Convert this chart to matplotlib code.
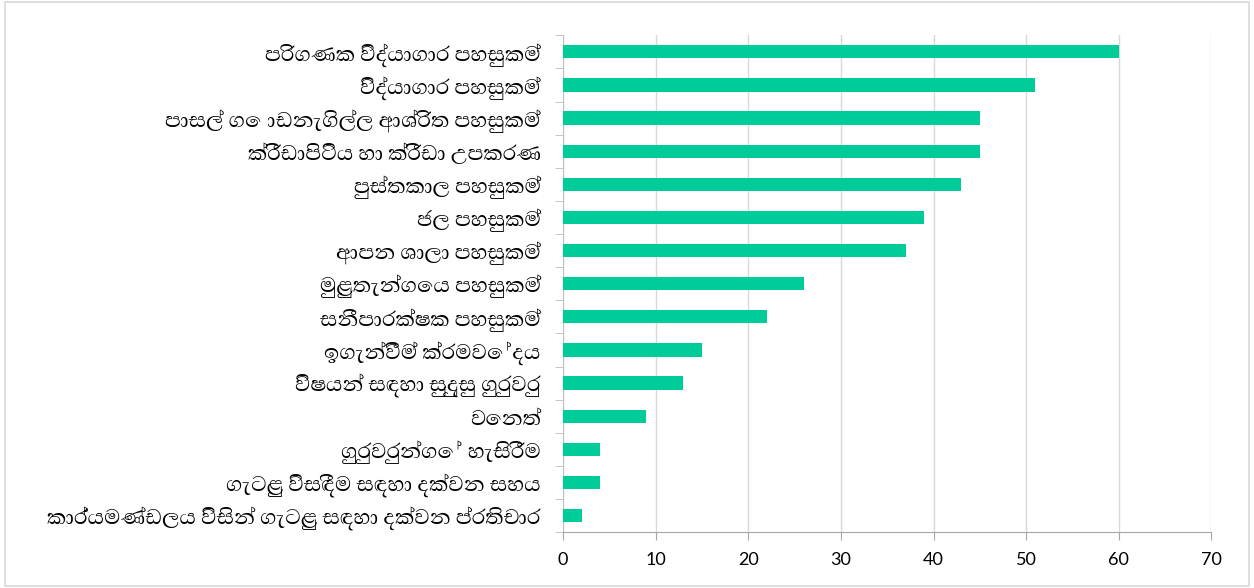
import matplotlib
matplotlib.use('Agg')
import matplotlib.pyplot as plt
from matplotlib import font_manager
from fontTools.ttLib import TTFont

labels = [
    'පරිගණක විද්‍යාගාර පහසුකම්',
    'විද්‍යාගාර පහසුකම්',
    'පාසල් ගොඩනැගිල්ල ආශ්‍රිත පහසුකම්',
    'ක්‍රීඩාපිටිය හා ක්‍රීඩා උපකරණ',
    'පුස්තකාල පහසුකම්',
    'ජල පහසුකම්',
    'ආපන ශාලා පහසුකම්',
    'මුළුතැන්ගෙය පහසුකම්',
    'සනීපාරක්ෂක පහසුකම්',
    'ඉගැන්වීම් ක්‍රමවේදය',
    'විෂයන් සඳහා සුදුසු ගුරුවරු',
    'වෙනත්',
    'ගුරුවරුන්ගේ හැසිරීම',
    'ගැටළු විසඳීම සඳහා දක්වන සහය',
    'කාර්යමණ්ඩලය විසින් ගැටළු සඳහා දක්වන ප්‍රතිචාර',
]
values = [60, 51, 45, 45, 43, 39, 37, 26, 22, 15, 13, 9, 4, 4, 2]
xticks = [0, 10, 20, 30, 40, 50, 60, 70]

# look for an installed font with Sinhala glyphs, regular weight preferred
found = []
for f in font_manager.fontManager.ttflist:
    try:
        cmap = TTFont(f.fname, fontNumber=0, lazy=True).getBestCmap()
        if cmap and 0x0D9A in cmap:
            w = f.weight if isinstance(f.weight, int) else 400
            found.append((abs(w - 400), f.style != 'normal', f.name, w))
    except Exception:
        pass
found.sort()
label_fonts = ['Noto Sans', 'DejaVu Sans']
label_weight = 'normal'
if found:
    label_fonts = [found[0][2]] + label_fonts
    label_weight = found[0][3]

# matplotlib does no shaping, so the zero-width joiner only shows as a box
shown = [s.replace('\u200d', '') for s in labels]

fig = plt.figure(figsize=(12.54, 5.88), dpi=100)
ax = fig.add_axes([0.449, 0.095, 0.517, 0.845])

y = list(range(len(labels)))
ax.barh(y, values, height=0.4, color='#00CC99', zorder=3)
ax.set_ylim(len(labels) - 0.5, -0.5)
ax.set_xlim(0, 70)
ax.set_xticks(xticks)
ax.set_xticklabels([str(t) for t in xticks], fontsize=13, family='Lato')

ax.set_yticks(y)
ax.set_yticklabels(shown, fontsize=19.5, family=label_fonts, weight=label_weight)
ax.tick_params(axis='y', length=0, pad=16)
ax.set_yticks([i + 0.5 for i in range(-1, len(labels))], minor=True)
ax.tick_params(axis='y', which='minor', length=6, color='#BFBFBF')
ax.tick_params(axis='x', length=6, color='#A6A6A6', pad=8)

ax.grid(axis='x', color='#D9D9D9', linewidth=1, zorder=0)
for s in ['top', 'right']:
    ax.spines[s].set_visible(False)
ax.spines['left'].set_color('#BFBFBF')
ax.spines['bottom'].set_color('#A6A6A6')

fig.patches.append(plt.Rectangle((0.004, 0.004), 0.992, 0.992, transform=fig.transFigure,
                                 fill=False, edgecolor='#D9D9D9', linewidth=1.2))

fig.savefig('out.png', dpi=100)
